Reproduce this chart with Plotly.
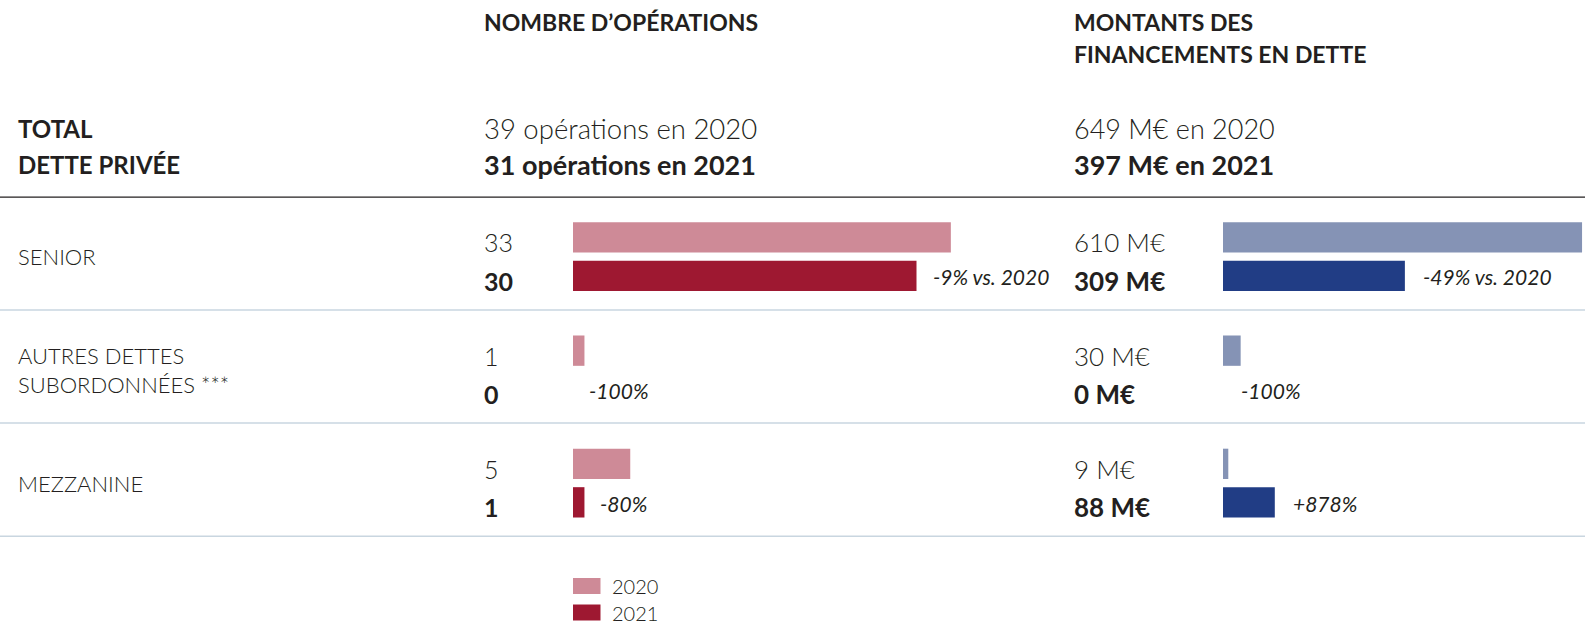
import plotly.graph_objects as go

# ---------------- data ----------------
categories = ["SENIOR", "AUTRES DETTES\nSUBORDONNÉES ***", "MEZZANINE"]
ops_2020 = [33, 1, 5]
ops_2021 = [30, 0, 1]
amt_2020 = [610, 30, 9]
amt_2021 = [309, 0, 88]
ops_change = ["-9% vs. 2020", "-100%", "-80%"]
amt_change = ["-49% vs. 2020", "-100%", "+878%"]
years = ["2020", "2021"]
total_ops = [39, 31]
total_amt = [649, 397]

# ---------------- style ----------------
W, H = 1585, 623
FONT = "Lato"
TXT = "#231F20"
C_OPS = ["#CE8A97", "#9E1831"]
C_AMT = ["#8593B5", "#213D85"]
SEP = "#C9D6E0"

ROW_PX = 113.2          # pixels per row
ROW0_PX = 256.7         # pixel y of first row centre
OFF = 0.17              # year offset within a row
BW = 0.268              # bar thickness (rows)

def py(px):  # pixel y -> paper y
    return 1 - px / H

rows = list(range(len(categories)))
y20 = [r - OFF for r in rows]
y21 = [r + OFF for r in rows]

fig = go.Figure()
for xs, col, ys, ax in [(ops_2020, C_OPS[0], y20, "x"), (ops_2021, C_OPS[1], y21, "x"),
                        (amt_2020, C_AMT[0], y20, "x2"), (amt_2021, C_AMT[1], y21, "x2")]:
    fig.add_trace(go.Bar(x=xs, y=ys, orientation="h", width=BW, marker_color=col,
                         marker_line_width=0, xaxis=ax, yaxis="y", hoverinfo="x"))

ann = []
def A(text, x, y, size, bold=False, italic=False, light=False, xref="paper", yref="paper",
      xshift=0, yshift=0, color=TXT):
    ann.append(dict(text=text, x=x, y=y, xref=xref, yref=yref, xanchor="left", yanchor="middle",
                    showarrow=False, xshift=xshift, yshift=yshift,
                    font=dict(family=FONT, size=size, color=color,
                              weight=700 if bold else (300 if light else 400),
                              style="italic" if italic else "normal")))

X_LAB = 16 / W
X_OPS = 482 / W
X_AMT = 1072 / W

# headers
A("NOMBRE D’OPÉRATIONS", X_OPS, py(22.2), 23, bold=True)
A("MONTANTS DES", X_AMT, py(22.2), 23, bold=True)
A("FINANCEMENTS EN DETTE", X_AMT, py(53.6), 23, bold=True)

# totals
A("TOTAL", X_LAB, py(128.4), 24, bold=True)
A("DETTE PRIVÉE", X_LAB, py(164.8), 24, bold=True)
A(f"{total_ops[0]} opérations en {years[0]}", X_OPS, py(128.4), 27.5, light=True)
A(f"<b>{total_ops[1]} opérations en {years[1]}</b>", X_OPS, py(164.8), 27, bold=True)
A(f"{total_amt[0]} M€ en {years[0]}", X_AMT, py(128.4), 27, light=True)
A(f"<b>{total_amt[1]} M€ en {years[1]}</b>", X_AMT, py(164.8), 27, bold=True)

# row labels and values
for i, cat in enumerate(categories):
    lines = cat.split("\n")
    n = len(lines)
    for j, ln in enumerate(lines):
        A(ln, X_LAB, i, 22, light=True, yref="y", yshift=-((j - (n - 1) / 2) * 29.5))
    A(str(ops_2020[i]), X_OPS, y20[i], 25, light=True, yref="y", yshift=-5)
    A(f"<b>{ops_2021[i]}</b>", X_OPS, y21[i], 25, bold=True, yref="y", yshift=-5)
    A(f"{amt_2020[i]} M€", X_AMT, y20[i], 26, light=True, yref="y", yshift=-5)
    A(f"<b>{amt_2021[i]} M€</b>", X_AMT, y21[i], 26, bold=True, yref="y", yshift=-5)
    A(ops_change[i], ops_2021[i], y21[i], 21, italic=True, xref="x", yref="y",
      xshift=14, yshift=-1)
    A(amt_change[i], amt_2021[i], y21[i], 21, italic=True, xref="x2", yref="y",
      xshift=16, yshift=-1)

# legend
shapes = []
leg_y = [586, 612.5]
for k, yr in enumerate(years):
    shapes.append(dict(type="rect", xref="paper", yref="paper",
                       x0=573 / W, x1=600.5 / W, y0=py(leg_y[k] - 8), y1=py(leg_y[k] + 8),
                       fillcolor=C_OPS[k], line=dict(width=0)))
    A(yr, 609.5 / W, py(leg_y[k]), 20, light=True)

# lines
shapes.append(dict(type="line", xref="paper", yref="y", x0=0, x1=1, y0=-0.527, y1=-0.527,
                   line=dict(color="#231F20", width=1.3)))
for r in rows:
    shapes.append(dict(type="line", xref="paper", yref="y", x0=0, x1=1, y0=r + 0.47, y1=r + 0.47,
                       line=dict(color=SEP, width=1.5)))

axis_off = dict(showgrid=False, zeroline=False, showticklabels=False, showline=False, fixedrange=True)
fig.update_layout(
    width=W, height=H, margin=dict(l=0, r=0, t=0, b=0),
    paper_bgcolor="white", plot_bgcolor="white", showlegend=False,
    barmode="overlay",
    xaxis=dict(domain=[573 / W, 1000 / W], range=[0, 427 / 11.45], **axis_off),
    xaxis2=dict(domain=[1223 / W, 1.0], range=[0, 615], anchor="y", **axis_off),
    yaxis=dict(domain=[0, 1], range=[(H - ROW0_PX) / ROW_PX, -ROW0_PX / ROW_PX], **axis_off),
    annotations=ann, shapes=shapes,
)
fig.write_html("out.html", config={"displayModeBar": False},
               post_script="document.body.style.margin='0';document.body.style.overflow='hidden';")
